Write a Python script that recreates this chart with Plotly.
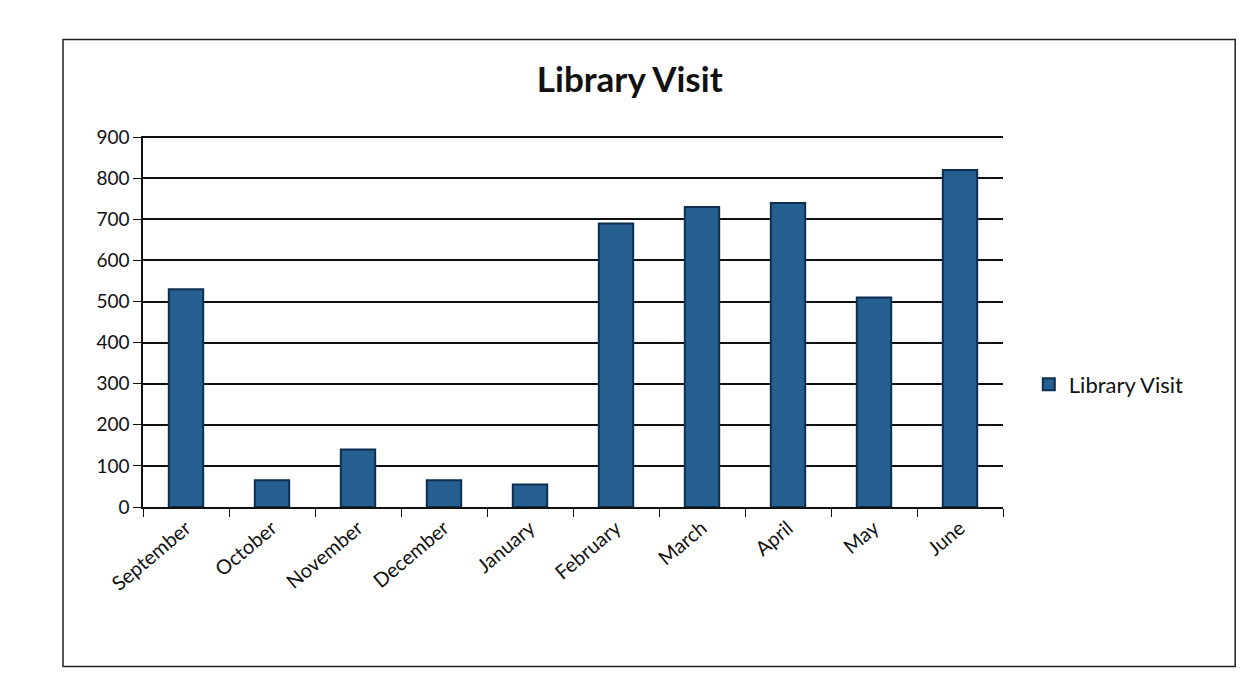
import plotly.graph_objects as go

months = ["September", "October", "November", "December", "January",
          "February", "March", "April", "May", "June"]
visits = [530, 65, 140, 65, 55, 690, 730, 740, 510, 820]
y_ticks = [0, 100, 200, 300, 400, 500, 600, 700, 800, 900]

fig = go.Figure()
fig.add_trace(go.Bar(
    x=months, y=visits, name="Library Visit",
    width=0.4,
    marker=dict(color="#245f8f", line=dict(color="#0d2e4f", width=2)),
    showlegend=True,
))

fig.update_layout(
    width=1251, height=682,
    paper_bgcolor="white", plot_bgcolor="white",
    font=dict(family="Lato, Open Sans, sans-serif", color="#111111"),
    title=dict(text="<b>Library Visit</b>", x=0.497, xanchor="center",
               y=0.895, yanchor="middle", font=dict(size=35, color="#111111"),
               xref="container"),
    margin=dict(l=135, r=256, t=128, b=183),
    legend=dict(x=1.03, y=0.33, xanchor="left", yanchor="middle",
                font=dict(size=22, color="#111111"), itemsizing="constant"),
    shapes=[dict(type="rect", xref="paper", yref="paper",
                 x0=-0.093, x1=1.27, y0=-0.43, y1=1.26,
                 line=dict(color="#222222", width=1.5))],
)
fig.update_xaxes(
    showline=True, linecolor="#111111", linewidth=1.5,
    ticks="outside", tickson="boundaries", ticklen=8, tickcolor="#111111",
    tickangle=-40, tickfont=dict(size=20, color="#111111"),
    showgrid=False,
)
fig.update_yaxes(
    range=[0, 903], tickvals=y_ticks,
    showline=True, linecolor="#111111", linewidth=1.5,
    ticks="outside", ticklen=8, tickcolor="#111111",
    tickfont=dict(size=19, color="#111111"),
    showgrid=True, gridcolor="#111111", gridwidth=1.5,
    zeroline=False,
)

fig.write_html("out.html")
